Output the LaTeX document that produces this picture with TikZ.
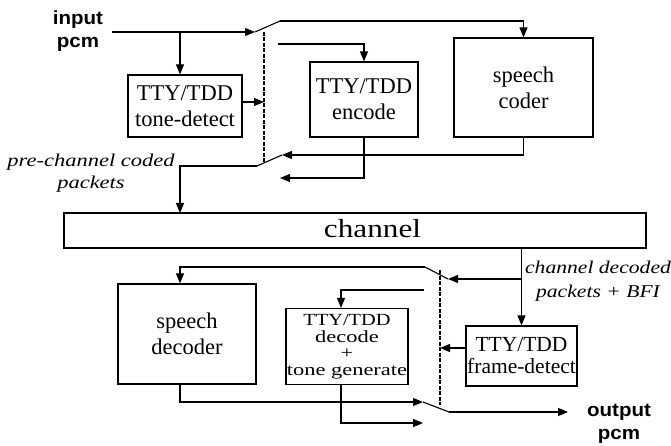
\documentclass[tikz,border=0pt]{standalone}
\usepackage{fontspec}
\setmainfont{Liberation Serif}
\newfontfamily\lsans[FakeStretch=1.08]{Liberation Sans}
\newfontfamily\wserif[FakeStretch=1.2]{Liberation Serif}
\newfontfamily\cserif[FakeStretch=1.25]{Liberation Serif}
\newfontfamily\xserif[FakeStretch=1.32]{Liberation Serif}
\usetikzlibrary{arrows.meta}
\begin{document}
\begin{tikzpicture}[x=1pt,y=-1pt,
  line width=1.1pt,
  box/.style={draw, line width=1.2pt, inner sep=0pt, align=center, font=\fontsize{22.5}{26}\selectfont},
  arr/.style={-{Triangle[length=10pt,width=8pt]}},
  dotl/.style={line width=1.6pt, dash pattern=on 4pt off 1.5pt},
  lbl/.style={align=center, inner sep=0pt}
]
\useasboundingbox (0,0) rectangle (671,446);

% blocks
\node[box, minimum width=114pt, minimum height=62pt] (tone) at (185,106) {TTY/TDD\\tone-detect};
\node[box, minimum width=108pt, minimum height=75pt] (enc) at (364,99.5) {TTY/TDD\\encode};
\node[box, minimum width=139pt, minimum height=99pt] (coder) at (523.5,87.5) {speech\\coder};
\node[box, minimum width=582pt, minimum height=35pt] (chan) at (355,230.5) {};
\node[lbl, anchor=base, font=\wserif\fontsize{26}{28}\selectfont] (chantxt) at (372.5,237) {channel};
\node[box, minimum width=138pt, minimum height=100pt] (dec) at (187,334) {speech\\decoder};
\node[box, minimum width=122pt, minimum height=76pt, font=\xserif\fontsize{17}{16.5}\selectfont] (ttydec) at (347,346.5) {{\wserif TTY/TDD}\\decode\\+\\tone generate};
\node[box, minimum width=111pt, minimum height=60pt, font=\fontsize{21.5}{22}\selectfont] (frame) at (521.5,356) {TTY/TDD\\frame-detect};

% labels
\node[lbl, font=\lsans\bfseries\fontsize{19}{23}\selectfont] (inlbl) at (78,31) {input\\pcm};
\node[lbl, font=\lsans\bfseries\fontsize{19}{23}\selectfont] (outlbl) at (619,424) {output\\pcm};
\node[lbl, font=\cserif\itshape\fontsize{18}{22}\selectfont] (prelbl) at (91,173) {pre-channel coded\\packets};
\node[lbl, font=\wserif\itshape\fontsize{18}{24}\selectfont] (chdlbl) at (598,281) {channel decoded\\packets + BFI};

% coordinates
\coordinate (inS) at (112,32);
\coordinate (sw1p) at (255,32);
\coordinate (sw1b) at (280,21);
\coordinate (c2) at (278,44);
\coordinate (sw2c) at (282,155);
\coordinate (sw2d) at (280,178);
\coordinate (sw2p) at (257,166);
\coordinate (chin) at (180,213);
\coordinate (d1t) at (264,32);
\coordinate (d1b) at (264,162);
\coordinate (sw3c) at (448,279);
\coordinate (sw3p) at (425,267);
\coordinate (c4) at (424,290);
\coordinate (d2t) at (440,270);
\coordinate (d2b) at (440,405);
\coordinate (sw4c) at (423,402);
\coordinate (sw4p) at (449,412);
\coordinate (c5) at (423,423);
\coordinate (outE) at (568,412);
\coordinate (tonein) at ([xshift=-5pt]tone.north);
\coordinate (toneout) at ([yshift=4pt]tone.east);
\coordinate (decin) at ([xshift=-7pt]dec.north);
\coordinate (tdin) at ([xshift=-6pt]ttydec.north);
\coordinate (frout) at ([yshift=8pt]frame.west);
\coordinate (decout) at ([xshift=-7pt]dec.south);
\coordinate (tdout) at ([xshift=-6pt]ttydec.south);

% transmit side
\draw[arr] (inS) -- (sw1p);
\draw[arr] (tonein |- inS) -- (tonein);
\draw (sw1p) -- (sw1b);
\draw[arr] (sw1b) -| (coder.north);
\draw[arr] (c2) -| (enc.north);
\draw[arr] (toneout) -- (toneout -| d1t);
\draw[dotl] (d1t) -- (d1b);
\draw[arr] (coder.south) |- (sw2c);
\draw[arr] (enc.south) |- (sw2d);
\draw (sw2p) -- (sw2c);
\draw[arr] (sw2p) -| (chin);

% receive side
\draw[arr] (chan.south -| frame.north) -- (frame.north);
\draw[arr] (sw3c -| frame.north) -- (sw3c);
\draw (sw3c) -- (sw3p);
\draw[arr] (sw3p) -| (decin);
\draw[arr] (c4) -| (tdin);
\draw[dotl] (d2t) -- (d2b);
\draw[arr] (frout) -- (frout -| d2t);
\draw[arr] (decout) |- (sw4c);
\draw[arr] (tdout) |- (c5);
\draw (sw4c) -- (sw4p);
\draw[arr] (sw4p) -- (outE);
\end{tikzpicture}
\end{document}
